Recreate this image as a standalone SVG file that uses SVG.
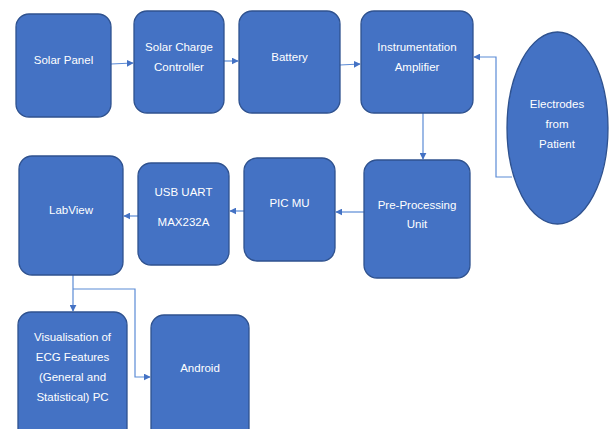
<svg xmlns="http://www.w3.org/2000/svg" width="609" height="429" viewBox="0 0 609 429">
<defs>
<style>
.n{fill:#4472C4;stroke:#2F528F;stroke-width:1.3}
.t{fill:#fff;font-family:"Liberation Sans",Arial,sans-serif;font-size:11.5px;text-anchor:middle}
.c{fill:none;stroke:#5B8BD6;stroke-width:1.2}
</style>
<marker id="a" viewBox="0 0 10 10" refX="9" refY="5" markerWidth="7" markerHeight="7" orient="auto" markerUnits="userSpaceOnUse">
<path d="M0,0 L10,5 L0,10 z" fill="#4472C4"/>
</marker>
</defs>
<rect width="609" height="429" fill="#fff"/>
<g id="connectors">
<line class="c" x1="111" y1="64" x2="133" y2="63" marker-end="url(#a)"/>
<line class="c" x1="224" y1="61" x2="238" y2="61" marker-end="url(#a)"/>
<line class="c" x1="340" y1="65" x2="360" y2="64" marker-end="url(#a)"/>
<polyline class="c" points="512,177 496,177 496,57 474,57" marker-end="url(#a)"/>
<line class="c" x1="423" y1="113" x2="423" y2="159" marker-end="url(#a)"/>
<line class="c" x1="364" y1="212" x2="336" y2="212" marker-end="url(#a)"/>
<line class="c" x1="244" y1="211" x2="230" y2="211" marker-end="url(#a)"/>
<line class="c" x1="138" y1="216" x2="124" y2="216" marker-end="url(#a)"/>
<line class="c" x1="73" y1="275" x2="73" y2="311" marker-end="url(#a)"/>
<polyline class="c" points="73,289 135,289 135,377 150,377" marker-end="url(#a)"/>
</g>
<g id="solar-panel"><rect class="n" x="16" y="14" width="95" height="103" rx="13"/><text class="t" x="63.5" y="64">Solar Panel</text></g>
<g id="charge-controller"><rect class="n" x="134" y="11" width="90" height="102" rx="13"/><text class="t" x="179" y="51">Solar Charge</text><text class="t" x="179" y="71">Controller</text></g>
<g id="battery"><rect class="n" x="239" y="11" width="101" height="102" rx="13"/><text class="t" x="289.5" y="61">Battery</text></g>
<g id="amplifier"><rect class="n" x="361" y="11" width="112" height="102" rx="13"/><text class="t" x="417" y="51">Instrumentation</text><text class="t" x="417" y="71">Amplifier</text></g>
<g id="electrodes"><ellipse class="n" cx="557.5" cy="128" rx="50.5" ry="96"/><text class="t" x="557" y="108">Electrodes</text><text class="t" x="557" y="128">from</text><text class="t" x="557" y="148">Patient</text></g>
<g id="pre-processing"><rect class="n" x="364" y="160" width="106" height="118" rx="13"/><text class="t" x="417" y="209">Pre-Processing</text><text class="t" x="417" y="228">Unit</text></g>
<g id="pic"><rect class="n" x="244" y="158" width="91" height="103" rx="13"/><text class="t" x="289.5" y="207">PIC MU</text></g>
<g id="usb-uart"><rect class="n" x="138" y="163" width="91" height="102" rx="13"/><text class="t" x="183.5" y="196">USB UART</text><text class="t" x="183.5" y="226">MAX232A</text></g>
<g id="labview"><rect class="n" x="19" y="156" width="104" height="119" rx="13"/><text class="t" x="71" y="214">LabView</text></g>
<g id="visualisation"><rect class="n" x="18" y="312" width="109" height="130" rx="13"/><text class="t" x="72.5" y="341">Visualisation of</text><text class="t" x="72.5" y="361">ECG Features</text><text class="t" x="72.5" y="381">(General and</text><text class="t" x="72.5" y="401">Statistical) PC</text></g>
<g id="android"><rect class="n" x="151" y="315" width="98" height="127" rx="13"/><text class="t" x="200" y="372">Android</text></g>
</svg>
